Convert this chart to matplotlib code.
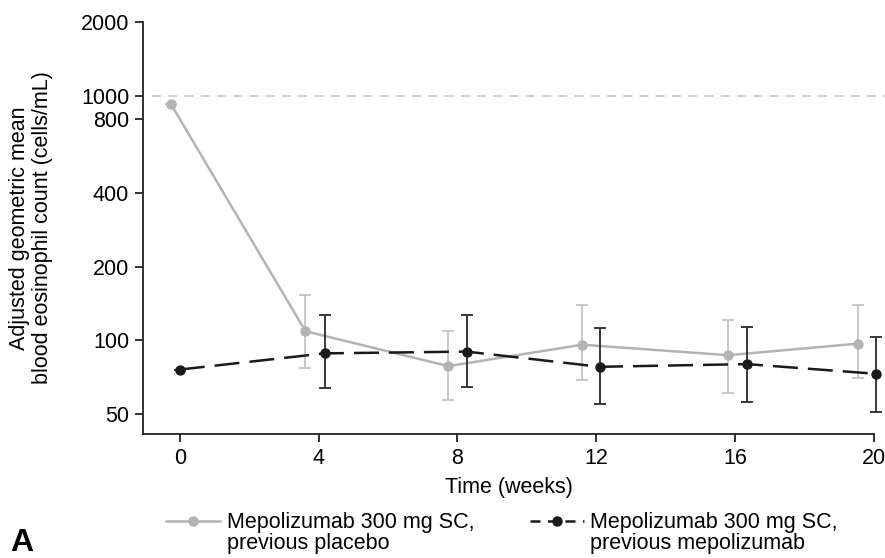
import numpy as np
import matplotlib
matplotlib.use("Agg")
import matplotlib.pyplot as plt
from matplotlib.lines import Line2D

plt.rcParams["font.family"] = ["Liberation Sans", "DejaVu Sans"]
plt.rcParams["font.size"] = 15.5

# Dữ liệu
weeks = [0, 4, 8, 12, 16, 20]

# Nhóm trước đây dùng placebo (xám) - vị trí x hơi lệch trái
placebo_x = [-0.26, 3.62, 7.74, 11.59, 15.8, 19.54]
placebo_mean = [926, 109, 78.5, 96, 87, 97]
placebo_low = [926, 77, 57, 69, 61, 70]
placebo_high = [926, 153, 109, 139, 121, 139]

# Nhóm trước đây dùng mepolizumab (đen) - lệch phải
mepo_x = [0.0, 4.17, 8.26, 12.1, 16.34, 20.07]
mepo_mean = [76, 88.5, 90, 78, 80, 73]
mepo_low = [76, 64, 64.4, 55, 56, 51]
mepo_high = [76, 127, 127, 112, 113, 103]

y_ticks = [50, 100, 200, 400, 800, 1000, 2000]
ref_level = 1000

label_placebo = ["Mepolizumab 300 mg SC,", "previous placebo"]
label_mepo = ["Mepolizumab 300 mg SC,", "previous mepolizumab"]

GRAY = "#b3b3b3"
BLACK = "#1a1a1a"

fig = plt.figure(figsize=(8.85, 5.58), dpi=100)
ax = fig.add_axes([0.1616, 0.222, 0.9876 - 0.1616, 0.9606 - 0.222])

ax.axhline(ref_level, xmin=0.012, xmax=1.016, color="#cccccc", lw=1.3,
           ls=(0, (5, 4)), zorder=0, clip_on=False)

pm = np.array(placebo_mean)
perr = np.array([pm - np.array(placebo_low), np.array(placebo_high) - pm])
ax.errorbar(placebo_x, placebo_mean, yerr=perr, color=GRAY, ecolor="#c4c4c4",
            lw=1.8, elinewidth=1.3, capsize=4.5, capthick=1.3,
            marker="o", markersize=6.5, clip_on=False, zorder=2)

mm = np.array(mepo_mean)
merr = np.array([mm - np.array(mepo_low), np.array(mepo_high) - mm])
eb = ax.errorbar(mepo_x, mepo_mean, yerr=merr, color=BLACK, ecolor="#2a2a2a",
                 lw=1.8, elinewidth=1.3, capsize=4.5, capthick=1.3,
                 marker="o", markersize=6.5, clip_on=False, zorder=3)
eb.lines[0].set_dashes((10, 4))
for art in eb.lines[1] + eb.lines[2]:
    art.set_clip_on(False)

ax.set_yscale("log")
ax.set_ylim(41.4, 2000)
ax.set_xlim(-1.06, 20)
ax.set_yticks(y_ticks)
ax.set_yticklabels([str(v) for v in y_ticks])
ax.yaxis.set_minor_locator(matplotlib.ticker.NullLocator())
ax.set_xticks(weeks)

for s in ["top", "right"]:
    ax.spines[s].set_visible(False)
for s in ["left", "bottom"]:
    ax.spines[s].set_linewidth(1.3)
    ax.spines[s].set_color("#222222")
ax.tick_params(length=6, width=1.3, color="#222222", pad=4)

ax.set_xlabel("Time (weeks)", labelpad=1)
ax.xaxis.set_label_coords(0.5, -0.105)
ax.set_ylabel("Adjusted geometric mean\nblood eosinophil count (cells/mL)",
              linespacing=1.1)
ax.yaxis.set_label_coords(-0.1235, 0.5)

# Chú thích
blank = Line2D([], [], linestyle="none")
h_pl = Line2D([], [], color=GRAY, lw=1.8, marker="o", markersize=6.5)
h_me = Line2D([], [], color=BLACK, lw=1.8, marker="o", markersize=6.5,
              dashes=(4, 3))
fig.legend([h_pl, blank, h_me, blank],
           [label_placebo[0], label_placebo[1], label_mepo[0], label_mepo[1]],
           ncol=2, loc="lower left", bbox_to_anchor=(0.166, -0.028),
           frameon=False, handlelength=2.5, handletextpad=0.3,
           columnspacing=2.6, labelspacing=0.0)

fig.text(0.012, 0.0, "A", fontsize=23, fontweight="bold", va="bottom")

fig.savefig("out.png", dpi=100)
